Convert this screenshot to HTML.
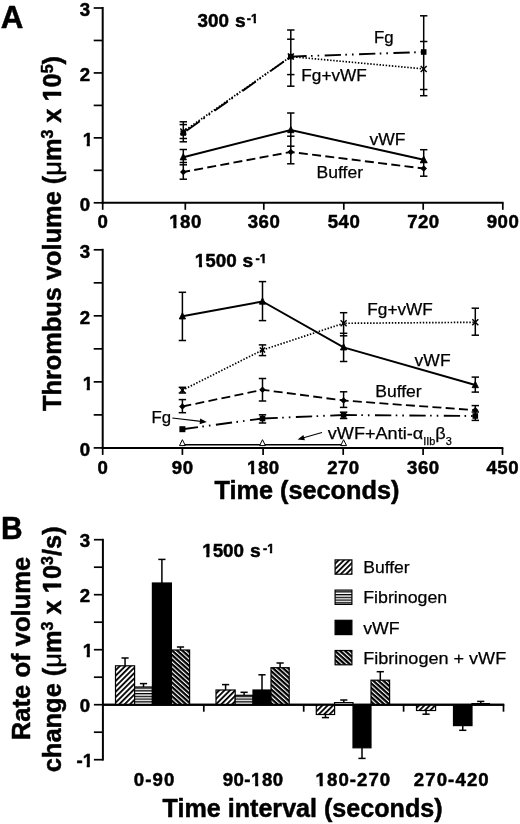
<!DOCTYPE html>
<html><head><meta charset="utf-8"><title>Figure</title>
<style>html,body{margin:0;padding:0;background:#fff}svg{display:block}text{font-family:'Liberation Sans', Arial, Helvetica, sans-serif;fill:#000;stroke:#000;stroke-width:0.5px;stroke-linejoin:round}text.r{stroke-width:0.25px}</style>
</head><body>
<svg width="520" height="824" viewBox="0 0 520 824">
<defs>
<pattern id="hb" width="3.8" height="3.8" patternUnits="userSpaceOnUse" patternTransform="rotate(-45)"><rect width="3.8" height="3.8" fill="#fff"/><rect width="3.8" height="1.8" fill="#000"/></pattern>
<pattern id="hf" width="3" height="2.75" patternUnits="userSpaceOnUse"><rect width="3" height="2.75" fill="#fff"/><rect width="3" height="1.3" fill="#000"/></pattern>
<pattern id="hg" width="3.4" height="3.4" patternUnits="userSpaceOnUse" patternTransform="rotate(42)"><rect width="3.4" height="3.4" fill="#fff"/><rect width="3.4" height="2.25" fill="#000"/></pattern>
</defs>
<rect width="520" height="824" fill="#fff"/>
<text id="t1" x="0.80" y="28.00" font-size="31.3" font-weight="bold" text-anchor="start" >A</text>
<text id="t2" x="1.00" y="538.70" font-size="31" font-weight="bold" text-anchor="start" textLength="21.6" lengthAdjust="spacingAndGlyphs" >B</text>
<line x1="102.70" y1="7.00" x2="102.70" y2="203.80" stroke="#000" stroke-width="2.0" />
<line x1="101.70" y1="202.80" x2="503.60" y2="202.80" stroke="#000" stroke-width="2.0" />
<line x1="93.70" y1="202.80" x2="102.70" y2="202.80" stroke="#000" stroke-width="1.7" />
<line x1="93.70" y1="170.33" x2="102.70" y2="170.33" stroke="#000" stroke-width="1.7" />
<line x1="93.70" y1="137.87" x2="102.70" y2="137.87" stroke="#000" stroke-width="1.7" />
<line x1="93.70" y1="105.40" x2="102.70" y2="105.40" stroke="#000" stroke-width="1.7" />
<line x1="93.70" y1="72.93" x2="102.70" y2="72.93" stroke="#000" stroke-width="1.7" />
<line x1="93.70" y1="40.47" x2="102.70" y2="40.47" stroke="#000" stroke-width="1.7" />
<line x1="93.70" y1="8.00" x2="102.70" y2="8.00" stroke="#000" stroke-width="1.7" />
<line x1="102.70" y1="202.80" x2="102.70" y2="209.80" stroke="#000" stroke-width="1.7" />
<text id="t3" x="102.95" y="228.20" font-size="18.6" font-weight="bold" text-anchor="middle" letter-spacing="0.5">0</text>
<line x1="185.30" y1="202.80" x2="185.30" y2="209.80" stroke="#000" stroke-width="1.7" />
<text id="t4" x="185.55" y="228.20" font-size="18.6" font-weight="bold" text-anchor="middle" letter-spacing="0.5">180</text><rect x="168.76" y="225.10" width="4.57" height="4.80" fill="#fff"/><rect x="176.48" y="225.10" width="4.33" height="4.80" fill="#fff"/>
<line x1="263.80" y1="202.80" x2="263.80" y2="209.80" stroke="#000" stroke-width="1.7" />
<text id="t5" x="264.05" y="228.20" font-size="18.6" font-weight="bold" text-anchor="middle" letter-spacing="0.5">360</text>
<line x1="343.80" y1="202.80" x2="343.80" y2="209.80" stroke="#000" stroke-width="1.7" />
<text id="t6" x="344.05" y="228.20" font-size="18.6" font-weight="bold" text-anchor="middle" letter-spacing="0.5">540</text>
<line x1="423.20" y1="202.80" x2="423.20" y2="209.80" stroke="#000" stroke-width="1.7" />
<text id="t7" x="423.45" y="228.20" font-size="18.6" font-weight="bold" text-anchor="middle" letter-spacing="0.5">720</text>
<line x1="502.80" y1="202.80" x2="502.80" y2="209.80" stroke="#000" stroke-width="1.7" />
<text id="t8" x="503.05" y="228.20" font-size="18.6" font-weight="bold" text-anchor="middle" letter-spacing="0.5">900</text>
<text id="t9" x="90.00" y="210.50" font-size="18.6" font-weight="bold" text-anchor="end" >0</text>
<text id="t10" x="93.00" y="145.57" font-size="18.6" font-weight="bold" text-anchor="end" >1</text><rect x="82.13" y="142.47" width="4.57" height="4.80" fill="#fff"/><rect x="89.85" y="142.47" width="4.33" height="4.80" fill="#fff"/>
<text id="t11" x="90.00" y="80.63" font-size="18.6" font-weight="bold" text-anchor="end" >2</text>
<text id="t12" x="90.00" y="15.70" font-size="18.6" font-weight="bold" text-anchor="end" >3</text>
<text id="t13" x="197.60" y="26.50" font-size="18.8" font-weight="bold" text-anchor="start" >300</text>
<text id="t14" x="235.00" y="26.50" font-size="19.2" font-weight="bold" text-anchor="start" >s</text>
<text id="t15" x="246.80" y="23.20" font-size="12.6" font-weight="bold" text-anchor="start" >-1</text><rect x="250.08" y="20.71" width="3.55" height="4.19" fill="#fff"/><rect x="255.96" y="20.71" width="3.39" height="4.19" fill="#fff"/>
<polyline points="183.30,131.50 290.80,56.60 423.70,68.90" fill="none" stroke="#000" stroke-width="1.7" stroke-dasharray="1.45 1.65" stroke-dashoffset="0"/>
<polyline points="183.30,133.00 290.80,56.60" fill="none" stroke="#000" stroke-width="1.9" stroke-dasharray="16.3 4.4 1.6 5.0 1.6 5.5" stroke-dashoffset="30.5"/>
<polyline points="290.80,56.60 423.70,52.00" fill="none" stroke="#000" stroke-width="1.9" stroke-dasharray="16.3 4.4 1.6 5.0 1.6 5.5" stroke-dashoffset="0.5"/>
<polyline points="183.30,157.20 290.80,130.00 423.70,159.70" fill="none" stroke="#000" stroke-width="2.0"/>
<polyline points="183.30,172.00 290.80,152.00 423.70,168.50" fill="none" stroke="#000" stroke-width="1.9" stroke-dasharray="9 4.3" stroke-dashoffset="2.2"/>
<line x1="183.30" y1="121.80" x2="183.30" y2="141.80" stroke="#000" stroke-width="1.5" />
<line x1="179.60" y1="121.80" x2="187.00" y2="121.80" stroke="#000" stroke-width="1.5" />
<line x1="179.60" y1="124.60" x2="187.00" y2="124.60" stroke="#000" stroke-width="1.5" />
<line x1="179.60" y1="138.50" x2="187.00" y2="138.50" stroke="#000" stroke-width="1.5" />
<line x1="179.60" y1="141.80" x2="187.00" y2="141.80" stroke="#000" stroke-width="1.5" />
<line x1="290.80" y1="30.00" x2="290.80" y2="86.20" stroke="#000" stroke-width="1.5" />
<line x1="287.10" y1="30.00" x2="294.50" y2="30.00" stroke="#000" stroke-width="1.5" />
<line x1="287.10" y1="39.20" x2="294.50" y2="39.20" stroke="#000" stroke-width="1.5" />
<line x1="287.10" y1="74.60" x2="294.50" y2="74.60" stroke="#000" stroke-width="1.5" />
<line x1="287.10" y1="86.20" x2="294.50" y2="86.20" stroke="#000" stroke-width="1.5" />
<line x1="423.70" y1="15.80" x2="423.70" y2="95.70" stroke="#000" stroke-width="1.5" />
<line x1="420.00" y1="15.80" x2="427.40" y2="15.80" stroke="#000" stroke-width="1.5" />
<line x1="420.00" y1="41.50" x2="427.40" y2="41.50" stroke="#000" stroke-width="1.5" />
<line x1="420.00" y1="89.50" x2="427.40" y2="89.50" stroke="#000" stroke-width="1.5" />
<line x1="420.00" y1="95.70" x2="427.40" y2="95.70" stroke="#000" stroke-width="1.5" />
<line x1="183.30" y1="149.50" x2="183.30" y2="179.20" stroke="#000" stroke-width="1.5" />
<line x1="179.60" y1="149.50" x2="187.00" y2="149.50" stroke="#000" stroke-width="1.5" />
<line x1="179.60" y1="162.50" x2="187.00" y2="162.50" stroke="#000" stroke-width="1.5" />
<line x1="179.60" y1="164.80" x2="187.00" y2="164.80" stroke="#000" stroke-width="1.5" />
<line x1="179.60" y1="179.20" x2="187.00" y2="179.20" stroke="#000" stroke-width="1.5" />
<line x1="290.80" y1="113.00" x2="290.80" y2="163.80" stroke="#000" stroke-width="1.5" />
<line x1="287.10" y1="113.00" x2="294.50" y2="113.00" stroke="#000" stroke-width="1.5" />
<line x1="287.10" y1="136.20" x2="294.50" y2="136.20" stroke="#000" stroke-width="1.5" />
<line x1="287.10" y1="146.20" x2="294.50" y2="146.20" stroke="#000" stroke-width="1.5" />
<line x1="287.10" y1="163.80" x2="294.50" y2="163.80" stroke="#000" stroke-width="1.5" />
<line x1="423.70" y1="149.70" x2="423.70" y2="176.20" stroke="#000" stroke-width="1.5" />
<line x1="420.00" y1="149.70" x2="427.40" y2="149.70" stroke="#000" stroke-width="1.5" />
<line x1="420.00" y1="162.50" x2="427.40" y2="162.50" stroke="#000" stroke-width="1.5" />
<line x1="420.00" y1="176.20" x2="427.40" y2="176.20" stroke="#000" stroke-width="1.5" />
<rect x="180.50" y="130.20" width="5.60" height="5.60" fill="#000"/>
<line x1="180.30" y1="128.50" x2="186.30" y2="134.50" stroke="#000" stroke-width="1.4" />
<line x1="180.30" y1="134.50" x2="186.30" y2="128.50" stroke="#000" stroke-width="1.4" />
<rect x="288.00" y="53.80" width="5.60" height="5.60" fill="#000"/>
<line x1="287.80" y1="53.60" x2="293.80" y2="59.60" stroke="#000" stroke-width="1.4" />
<line x1="287.80" y1="59.60" x2="293.80" y2="53.60" stroke="#000" stroke-width="1.4" />
<rect x="420.90" y="49.20" width="5.60" height="5.60" fill="#000"/>
<line x1="420.70" y1="65.90" x2="426.70" y2="71.90" stroke="#000" stroke-width="1.4" />
<line x1="420.70" y1="71.90" x2="426.70" y2="65.90" stroke="#000" stroke-width="1.4" />
<polygon points="183.30,153.58 180.15,159.88 186.45,159.88" fill="#000" stroke="#000" stroke-width="0.9"/>
<polygon points="290.80,126.38 287.65,132.68 293.95,132.68" fill="#000" stroke="#000" stroke-width="0.9"/>
<polygon points="423.70,156.08 420.55,162.38 426.85,162.38" fill="#000" stroke="#000" stroke-width="0.9"/>
<polygon points="183.30,168.70 186.60,172.00 183.30,175.30 180.00,172.00" fill="#000"/>
<polygon points="290.80,148.70 294.10,152.00 290.80,155.30 287.50,152.00" fill="#000"/>
<polygon points="423.70,165.20 427.00,168.50 423.70,171.80 420.40,168.50" fill="#000"/>
<text id="t16" x="374.00" y="43.40" class="r" font-size="16.6" font-weight="normal" text-anchor="start" textLength="19.6" lengthAdjust="spacingAndGlyphs" >Fg</text>
<text id="t17" x="301.30" y="81.30" class="r" font-size="16.6" font-weight="normal" text-anchor="start" textLength="65.5" lengthAdjust="spacingAndGlyphs" >Fg+vWF</text>
<text id="t18" x="369.50" y="144.80" class="r" font-size="16.6" font-weight="normal" text-anchor="start" textLength="36.0" lengthAdjust="spacingAndGlyphs" >vWF</text>
<text id="t19" x="316.60" y="178.30" class="r" font-size="16.6" font-weight="normal" text-anchor="start" textLength="46.5" lengthAdjust="spacingAndGlyphs" >Buffer</text>
<g transform="translate(61.3,411) rotate(-90)"><text id="ylA" font-size="25.5" font-weight="bold" textLength="355" lengthAdjust="spacingAndGlyphs">Thrombus volume (<tspan font-weight="normal">μ</tspan>m<tspan font-size="16" dy="-8.5">3</tspan><tspan dy="8.5"> x 10</tspan><tspan font-size="16" dy="-8.5">5</tspan><tspan dy="8.5">)</tspan></text><rect x="309.39" y="-3.80" width="5.75" height="5.50" fill="#fff"/><rect x="319.23" y="-3.80" width="5.42" height="5.50" fill="#fff"/></g>
<line x1="102.70" y1="248.80" x2="102.70" y2="448.90" stroke="#000" stroke-width="2.0" />
<line x1="101.70" y1="447.90" x2="503.30" y2="447.90" stroke="#000" stroke-width="2.0" />
<line x1="93.70" y1="447.90" x2="102.70" y2="447.90" stroke="#000" stroke-width="1.7" />
<line x1="93.70" y1="414.88" x2="102.70" y2="414.88" stroke="#000" stroke-width="1.7" />
<line x1="93.70" y1="381.87" x2="102.70" y2="381.87" stroke="#000" stroke-width="1.7" />
<line x1="93.70" y1="348.85" x2="102.70" y2="348.85" stroke="#000" stroke-width="1.7" />
<line x1="93.70" y1="315.83" x2="102.70" y2="315.83" stroke="#000" stroke-width="1.7" />
<line x1="93.70" y1="282.82" x2="102.70" y2="282.82" stroke="#000" stroke-width="1.7" />
<line x1="93.70" y1="249.80" x2="102.70" y2="249.80" stroke="#000" stroke-width="1.7" />
<line x1="102.70" y1="447.90" x2="102.70" y2="454.90" stroke="#000" stroke-width="1.7" />
<text id="t20" x="102.95" y="473.70" font-size="18.6" font-weight="bold" text-anchor="middle" letter-spacing="0.5">0</text>
<line x1="182.40" y1="447.90" x2="182.40" y2="454.90" stroke="#000" stroke-width="1.7" />
<text id="t21" x="182.65" y="473.70" font-size="18.6" font-weight="bold" text-anchor="middle" letter-spacing="0.5">90</text>
<line x1="263.10" y1="447.90" x2="263.10" y2="454.90" stroke="#000" stroke-width="1.7" />
<text id="t22" x="263.35" y="473.70" font-size="18.6" font-weight="bold" text-anchor="middle" letter-spacing="0.5">180</text><rect x="246.56" y="470.60" width="4.57" height="4.80" fill="#fff"/><rect x="254.28" y="470.60" width="4.33" height="4.80" fill="#fff"/>
<line x1="343.20" y1="447.90" x2="343.20" y2="454.90" stroke="#000" stroke-width="1.7" />
<text id="t23" x="343.45" y="473.70" font-size="18.6" font-weight="bold" text-anchor="middle" letter-spacing="0.5">270</text>
<line x1="423.10" y1="447.90" x2="423.10" y2="454.90" stroke="#000" stroke-width="1.7" />
<text id="t24" x="423.35" y="473.70" font-size="18.6" font-weight="bold" text-anchor="middle" letter-spacing="0.5">360</text>
<line x1="502.50" y1="447.90" x2="502.50" y2="454.90" stroke="#000" stroke-width="1.7" />
<text id="t25" x="502.75" y="473.70" font-size="18.6" font-weight="bold" text-anchor="middle" letter-spacing="0.5">450</text>
<text id="t26" x="90.00" y="455.60" font-size="18.6" font-weight="bold" text-anchor="end" >0</text>
<text id="t27" x="93.00" y="389.57" font-size="18.6" font-weight="bold" text-anchor="end" >1</text><rect x="82.13" y="386.47" width="4.57" height="4.80" fill="#fff"/><rect x="89.85" y="386.47" width="4.33" height="4.80" fill="#fff"/>
<text id="t28" x="90.00" y="323.53" font-size="18.6" font-weight="bold" text-anchor="end" >2</text>
<text id="t29" x="90.00" y="257.50" font-size="18.6" font-weight="bold" text-anchor="end" >3</text>
<text id="t30" x="194.80" y="266.60" font-size="18.8" font-weight="bold" text-anchor="start" >1500</text><rect x="194.28" y="263.48" width="4.60" height="4.82" fill="#fff"/><rect x="202.07" y="263.48" width="4.37" height="4.82" fill="#fff"/>
<text id="t31" x="242.40" y="266.60" font-size="19.2" font-weight="bold" text-anchor="start" >s</text>
<text id="t32" x="255.60" y="263.30" font-size="12.6" font-weight="bold" text-anchor="start" >-1</text><rect x="258.88" y="260.81" width="3.55" height="4.19" fill="#fff"/><rect x="264.76" y="260.81" width="3.39" height="4.19" fill="#fff"/>
<line x1="182.40" y1="444.80" x2="343.60" y2="444.80" stroke="#000" stroke-width="1.4" />
<polyline points="182.40,390.20 262.50,350.00 343.60,323.30 475.30,322.30" fill="none" stroke="#000" stroke-width="1.7" stroke-dasharray="1.45 1.65" stroke-dashoffset="0"/>
<polyline points="182.40,429.20 262.50,418.50" fill="none" stroke="#000" stroke-width="1.9" stroke-dasharray="16.3 4.4 1.6 5.0 1.6 5.5" stroke-dashoffset="0.6"/>
<polyline points="262.50,418.50 343.60,415.00" fill="none" stroke="#000" stroke-width="1.9" stroke-dasharray="16.3 4.4 1.6 5.0 1.6 5.5" stroke-dashoffset="1.0"/>
<polyline points="343.60,415.00 475.30,416.00" fill="none" stroke="#000" stroke-width="1.9" stroke-dasharray="16.3 4.4 1.6 5.0 1.6 5.5" stroke-dashoffset="3.0"/>
<polyline points="182.40,316.30 262.50,301.50 343.60,347.30 475.30,385.00" fill="none" stroke="#000" stroke-width="1.9"/>
<polyline points="182.40,406.50 262.50,389.80 343.60,400.50 475.30,410.20" fill="none" stroke="#000" stroke-width="1.8" stroke-dasharray="9 4.3" stroke-dashoffset="0"/>
<line x1="182.40" y1="292.30" x2="182.40" y2="340.50" stroke="#000" stroke-width="1.5" />
<line x1="178.70" y1="292.30" x2="186.10" y2="292.30" stroke="#000" stroke-width="1.5" />
<line x1="178.70" y1="340.50" x2="186.10" y2="340.50" stroke="#000" stroke-width="1.5" />
<line x1="262.50" y1="281.60" x2="262.50" y2="320.60" stroke="#000" stroke-width="1.5" />
<line x1="258.80" y1="281.60" x2="266.20" y2="281.60" stroke="#000" stroke-width="1.5" />
<line x1="258.80" y1="320.60" x2="266.20" y2="320.60" stroke="#000" stroke-width="1.5" />
<line x1="343.60" y1="312.70" x2="343.60" y2="361.50" stroke="#000" stroke-width="1.5" />
<line x1="339.90" y1="312.70" x2="347.30" y2="312.70" stroke="#000" stroke-width="1.5" />
<line x1="339.90" y1="333.30" x2="347.30" y2="333.30" stroke="#000" stroke-width="1.5" />
<line x1="339.90" y1="335.80" x2="347.30" y2="335.80" stroke="#000" stroke-width="1.5" />
<line x1="339.90" y1="361.50" x2="347.30" y2="361.50" stroke="#000" stroke-width="1.5" />
<line x1="475.30" y1="377.10" x2="475.30" y2="392.10" stroke="#000" stroke-width="1.5" />
<line x1="471.60" y1="377.10" x2="479.00" y2="377.10" stroke="#000" stroke-width="1.5" />
<line x1="471.60" y1="392.10" x2="479.00" y2="392.10" stroke="#000" stroke-width="1.5" />
<line x1="182.40" y1="387.30" x2="182.40" y2="393.00" stroke="#000" stroke-width="1.5" />
<line x1="178.70" y1="387.30" x2="186.10" y2="387.30" stroke="#000" stroke-width="1.5" />
<line x1="178.70" y1="393.00" x2="186.10" y2="393.00" stroke="#000" stroke-width="1.5" />
<line x1="262.50" y1="344.90" x2="262.50" y2="355.60" stroke="#000" stroke-width="1.5" />
<line x1="258.80" y1="344.90" x2="266.20" y2="344.90" stroke="#000" stroke-width="1.5" />
<line x1="258.80" y1="355.60" x2="266.20" y2="355.60" stroke="#000" stroke-width="1.5" />
<line x1="475.30" y1="308.20" x2="475.30" y2="335.20" stroke="#000" stroke-width="1.5" />
<line x1="471.60" y1="308.20" x2="479.00" y2="308.20" stroke="#000" stroke-width="1.5" />
<line x1="471.60" y1="335.20" x2="479.00" y2="335.20" stroke="#000" stroke-width="1.5" />
<line x1="182.40" y1="399.60" x2="182.40" y2="412.70" stroke="#000" stroke-width="1.5" />
<line x1="178.70" y1="399.60" x2="186.10" y2="399.60" stroke="#000" stroke-width="1.5" />
<line x1="178.70" y1="412.70" x2="186.10" y2="412.70" stroke="#000" stroke-width="1.5" />
<line x1="262.50" y1="378.50" x2="262.50" y2="401.00" stroke="#000" stroke-width="1.5" />
<line x1="258.80" y1="378.50" x2="266.20" y2="378.50" stroke="#000" stroke-width="1.5" />
<line x1="258.80" y1="401.00" x2="266.20" y2="401.00" stroke="#000" stroke-width="1.5" />
<line x1="343.60" y1="391.80" x2="343.60" y2="407.40" stroke="#000" stroke-width="1.5" />
<line x1="339.90" y1="391.80" x2="347.30" y2="391.80" stroke="#000" stroke-width="1.5" />
<line x1="339.90" y1="407.40" x2="347.30" y2="407.40" stroke="#000" stroke-width="1.5" />
<line x1="475.30" y1="405.60" x2="475.30" y2="420.40" stroke="#000" stroke-width="1.5" />
<line x1="471.60" y1="405.60" x2="479.00" y2="405.60" stroke="#000" stroke-width="1.5" />
<line x1="471.60" y1="412.00" x2="479.00" y2="412.00" stroke="#000" stroke-width="1.5" />
<line x1="471.60" y1="420.40" x2="479.00" y2="420.40" stroke="#000" stroke-width="1.5" />
<line x1="262.50" y1="414.80" x2="262.50" y2="423.00" stroke="#000" stroke-width="1.5" />
<line x1="258.80" y1="414.80" x2="266.20" y2="414.80" stroke="#000" stroke-width="1.5" />
<line x1="258.80" y1="423.00" x2="266.20" y2="423.00" stroke="#000" stroke-width="1.5" />
<line x1="343.60" y1="412.20" x2="343.60" y2="418.50" stroke="#000" stroke-width="1.5" />
<line x1="339.90" y1="412.20" x2="347.30" y2="412.20" stroke="#000" stroke-width="1.5" />
<line x1="339.90" y1="418.50" x2="347.30" y2="418.50" stroke="#000" stroke-width="1.5" />
<line x1="182.40" y1="427.00" x2="182.40" y2="431.40" stroke="#000" stroke-width="1.5" />
<line x1="179.80" y1="387.60" x2="185.00" y2="392.80" stroke="#000" stroke-width="1.4" />
<line x1="179.80" y1="392.80" x2="185.00" y2="387.60" stroke="#000" stroke-width="1.4" />
<line x1="259.90" y1="347.40" x2="265.10" y2="352.60" stroke="#000" stroke-width="1.4" />
<line x1="259.90" y1="352.60" x2="265.10" y2="347.40" stroke="#000" stroke-width="1.4" />
<line x1="340.60" y1="320.30" x2="346.60" y2="326.30" stroke="#000" stroke-width="1.4" />
<line x1="340.60" y1="326.30" x2="346.60" y2="320.30" stroke="#000" stroke-width="1.4" />
<line x1="472.30" y1="319.30" x2="478.30" y2="325.30" stroke="#000" stroke-width="1.4" />
<line x1="472.30" y1="325.30" x2="478.30" y2="319.30" stroke="#000" stroke-width="1.4" />
<polygon points="182.40,312.68 179.25,318.98 185.55,318.98" fill="#000" stroke="#000" stroke-width="0.9"/>
<polygon points="262.50,297.88 259.35,304.18 265.65,304.18" fill="#000" stroke="#000" stroke-width="0.9"/>
<polygon points="343.60,343.68 340.45,349.98 346.75,349.98" fill="#000" stroke="#000" stroke-width="0.9"/>
<polygon points="475.30,381.38 472.15,387.68 478.45,387.68" fill="#000" stroke="#000" stroke-width="0.9"/>
<polygon points="182.40,403.20 185.70,406.50 182.40,409.80 179.10,406.50" fill="#000"/>
<polygon points="262.50,386.50 265.80,389.80 262.50,393.10 259.20,389.80" fill="#000"/>
<polygon points="343.60,397.20 346.90,400.50 343.60,403.80 340.30,400.50" fill="#000"/>
<polygon points="475.30,406.90 478.60,410.20 475.30,413.50 472.00,410.20" fill="#000"/>
<rect x="179.40" y="426.20" width="6.00" height="6.00" fill="#000"/>
<rect x="259.70" y="415.70" width="5.60" height="5.60" fill="#000"/>
<rect x="340.80" y="412.20" width="5.60" height="5.60" fill="#000"/>
<rect x="472.50" y="413.20" width="5.60" height="5.60" fill="#000"/>
<polygon points="182.40,439.7 179.50,445.6 185.30,445.6" fill="#fff" stroke="#000" stroke-width="1"/>
<polygon points="262.50,439.7 259.60,445.6 265.40,445.6" fill="#fff" stroke="#000" stroke-width="1"/>
<polygon points="343.60,439.7 340.70,445.6 346.50,445.6" fill="#fff" stroke="#000" stroke-width="1"/>
<text id="t33" x="367.30" y="315.40" class="r" font-size="16.6" font-weight="normal" text-anchor="start" textLength="65.5" lengthAdjust="spacingAndGlyphs" >Fg+vWF</text>
<text id="t34" x="414.60" y="366.00" class="r" font-size="16.6" font-weight="normal" text-anchor="start" textLength="36.0" lengthAdjust="spacingAndGlyphs" >vWF</text>
<text id="t35" x="375.20" y="396.50" class="r" font-size="16.6" font-weight="normal" text-anchor="start" textLength="46.5" lengthAdjust="spacingAndGlyphs" >Buffer</text>
<text id="t36" x="151.60" y="422.50" class="r" font-size="16.6" font-weight="normal" text-anchor="start" textLength="19.6" lengthAdjust="spacingAndGlyphs" >Fg</text>
<line x1="172.30" y1="418.00" x2="203.00" y2="421.60" stroke="#000" stroke-width="1.1" />
<polygon points="206.8,422.1 200.2,418.6 199.6,424.2" fill="#000"/>
<text class="r" x="327.8" y="439.4" font-size="16.6" textLength="124" lengthAdjust="spacingAndGlyphs">vWF+Anti-α<tspan font-size="10" dy="5.9">IIb</tspan><tspan dy="-5.9">β</tspan><tspan font-size="10" dy="5.9">3</tspan></text>
<line x1="322.00" y1="432.50" x2="301.00" y2="438.50" stroke="#000" stroke-width="1.1" />
<polygon points="297.6,439.5 303.4,435.1 304.9,440.3" fill="#000"/>
<text id="t37" x="214.40" y="498.60" font-size="25" font-weight="bold" text-anchor="start" textLength="185.0" lengthAdjust="spacingAndGlyphs" >Time (seconds)</text>
<line x1="102.90" y1="538.80" x2="102.90" y2="760.60" stroke="#000" stroke-width="2.0" />
<line x1="102.00" y1="704.70" x2="504.20" y2="704.70" stroke="#000" stroke-width="2.0" />
<line x1="93.90" y1="539.70" x2="102.90" y2="539.70" stroke="#000" stroke-width="1.7" />
<line x1="93.90" y1="567.20" x2="102.90" y2="567.20" stroke="#000" stroke-width="1.7" />
<line x1="93.90" y1="594.70" x2="102.90" y2="594.70" stroke="#000" stroke-width="1.7" />
<line x1="93.90" y1="622.20" x2="102.90" y2="622.20" stroke="#000" stroke-width="1.7" />
<line x1="93.90" y1="649.70" x2="102.90" y2="649.70" stroke="#000" stroke-width="1.7" />
<line x1="93.90" y1="677.20" x2="102.90" y2="677.20" stroke="#000" stroke-width="1.7" />
<line x1="93.90" y1="704.70" x2="102.90" y2="704.70" stroke="#000" stroke-width="1.7" />
<line x1="93.90" y1="732.20" x2="102.90" y2="732.20" stroke="#000" stroke-width="1.7" />
<line x1="93.90" y1="759.70" x2="102.90" y2="759.70" stroke="#000" stroke-width="1.7" />
<text id="t38" x="90.00" y="547.00" font-size="18.6" font-weight="bold" text-anchor="end" >3</text>
<text id="t39" x="90.00" y="602.00" font-size="18.6" font-weight="bold" text-anchor="end" >2</text>
<text id="t40" x="93.00" y="657.00" font-size="18.6" font-weight="bold" text-anchor="end" >1</text><rect x="82.13" y="653.90" width="4.57" height="4.80" fill="#fff"/><rect x="89.85" y="653.90" width="4.33" height="4.80" fill="#fff"/>
<text id="t41" x="90.00" y="712.00" font-size="18.6" font-weight="bold" text-anchor="end" >0</text>
<text id="t42" x="93.00" y="767.00" font-size="18.6" font-weight="bold" text-anchor="end" >-1</text><rect x="82.11" y="763.90" width="4.57" height="4.80" fill="#fff"/><rect x="89.83" y="763.90" width="4.33" height="4.80" fill="#fff"/>
<line x1="203.80" y1="704.70" x2="203.80" y2="711.70" stroke="#000" stroke-width="1.7" />
<line x1="303.70" y1="704.70" x2="303.70" y2="711.70" stroke="#000" stroke-width="1.7" />
<line x1="403.60" y1="704.70" x2="403.60" y2="711.70" stroke="#000" stroke-width="1.7" />
<line x1="503.50" y1="704.70" x2="503.50" y2="711.70" stroke="#000" stroke-width="1.7" />
<line x1="125.05" y1="665.80" x2="125.05" y2="658.00" stroke="#000" stroke-width="1.5" />
<line x1="121.45" y1="658.00" x2="128.65" y2="658.00" stroke="#000" stroke-width="1.5" />
<rect x="115.50" y="665.80" width="19.10" height="38.90" fill="url(#hb)" stroke="#000" stroke-width="1.2"/>
<line x1="143.50" y1="687.00" x2="143.50" y2="683.60" stroke="#000" stroke-width="1.5" />
<line x1="139.90" y1="683.60" x2="147.10" y2="683.60" stroke="#000" stroke-width="1.5" />
<rect x="134.60" y="687.00" width="17.80" height="17.70" fill="url(#hf)" stroke="#000" stroke-width="1.2"/>
<line x1="161.90" y1="583.00" x2="161.90" y2="559.40" stroke="#000" stroke-width="1.5" />
<line x1="158.30" y1="559.40" x2="165.50" y2="559.40" stroke="#000" stroke-width="1.5" />
<rect x="152.40" y="583.00" width="19.00" height="121.70" fill="#000" stroke="#000" stroke-width="1.2"/>
<line x1="180.50" y1="650.00" x2="180.50" y2="647.00" stroke="#000" stroke-width="1.5" />
<line x1="176.90" y1="647.00" x2="184.10" y2="647.00" stroke="#000" stroke-width="1.5" />
<rect x="171.40" y="650.00" width="18.20" height="54.70" fill="url(#hg)" stroke="#000" stroke-width="1.2"/>
<line x1="225.60" y1="690.00" x2="225.60" y2="684.60" stroke="#000" stroke-width="1.5" />
<line x1="222.00" y1="684.60" x2="229.20" y2="684.60" stroke="#000" stroke-width="1.5" />
<rect x="216.00" y="690.00" width="19.20" height="14.70" fill="url(#hb)" stroke="#000" stroke-width="1.2"/>
<line x1="244.10" y1="695.30" x2="244.10" y2="692.30" stroke="#000" stroke-width="1.5" />
<line x1="240.50" y1="692.30" x2="247.70" y2="692.30" stroke="#000" stroke-width="1.5" />
<rect x="235.20" y="695.30" width="17.80" height="9.40" fill="url(#hf)" stroke="#000" stroke-width="1.2"/>
<line x1="262.00" y1="690.00" x2="262.00" y2="674.80" stroke="#000" stroke-width="1.5" />
<line x1="258.40" y1="674.80" x2="265.60" y2="674.80" stroke="#000" stroke-width="1.5" />
<rect x="253.00" y="690.00" width="18.00" height="14.70" fill="#000" stroke="#000" stroke-width="1.2"/>
<line x1="280.10" y1="667.70" x2="280.10" y2="663.00" stroke="#000" stroke-width="1.5" />
<line x1="276.50" y1="663.00" x2="283.70" y2="663.00" stroke="#000" stroke-width="1.5" />
<rect x="271.00" y="667.70" width="18.20" height="37.00" fill="url(#hg)" stroke="#000" stroke-width="1.2"/>
<line x1="325.45" y1="714.50" x2="325.45" y2="717.60" stroke="#000" stroke-width="1.5" />
<line x1="321.85" y1="717.60" x2="329.05" y2="717.60" stroke="#000" stroke-width="1.5" />
<rect x="316.30" y="704.70" width="18.30" height="9.80" fill="url(#hb)" stroke="#000" stroke-width="1.2"/>
<line x1="343.80" y1="702.60" x2="343.80" y2="700.00" stroke="#000" stroke-width="1.5" />
<line x1="340.20" y1="700.00" x2="347.40" y2="700.00" stroke="#000" stroke-width="1.5" />
<rect x="334.60" y="702.60" width="18.40" height="2.10" fill="url(#hf)" stroke="#000" stroke-width="1.2"/>
<line x1="362.00" y1="747.80" x2="362.00" y2="758.40" stroke="#000" stroke-width="1.5" />
<line x1="358.40" y1="758.40" x2="365.60" y2="758.40" stroke="#000" stroke-width="1.5" />
<rect x="353.00" y="704.70" width="18.00" height="43.10" fill="#000" stroke="#000" stroke-width="1.2"/>
<line x1="380.30" y1="680.20" x2="380.30" y2="671.70" stroke="#000" stroke-width="1.5" />
<line x1="376.70" y1="671.70" x2="383.90" y2="671.70" stroke="#000" stroke-width="1.5" />
<rect x="371.00" y="680.20" width="18.60" height="24.50" fill="url(#hg)" stroke="#000" stroke-width="1.2"/>
<line x1="426.05" y1="710.50" x2="426.05" y2="714.20" stroke="#000" stroke-width="1.5" />
<line x1="422.45" y1="714.20" x2="429.65" y2="714.20" stroke="#000" stroke-width="1.5" />
<rect x="416.50" y="704.70" width="19.10" height="5.80" fill="url(#hb)" stroke="#000" stroke-width="1.2"/>
<line x1="462.75" y1="725.60" x2="462.75" y2="730.30" stroke="#000" stroke-width="1.5" />
<line x1="459.15" y1="730.30" x2="466.35" y2="730.30" stroke="#000" stroke-width="1.5" />
<rect x="453.50" y="704.70" width="18.50" height="20.90" fill="#000" stroke="#000" stroke-width="1.2"/>
<line x1="480.75" y1="703.60" x2="480.75" y2="701.40" stroke="#000" stroke-width="1.5" />
<line x1="477.15" y1="701.40" x2="484.35" y2="701.40" stroke="#000" stroke-width="1.5" />
<rect x="472.00" y="703.60" width="17.50" height="1.10" fill="url(#hg)" stroke="#000" stroke-width="1.2"/>
<line x1="102.00" y1="704.70" x2="504.20" y2="704.70" stroke="#000" stroke-width="2.0" />
<text id="t43" x="202.20" y="556.60" font-size="18.8" font-weight="bold" text-anchor="start" >1500</text><rect x="201.68" y="553.48" width="4.60" height="4.82" fill="#fff"/><rect x="209.47" y="553.48" width="4.37" height="4.82" fill="#fff"/>
<text id="t44" x="250.00" y="556.60" font-size="19.2" font-weight="bold" text-anchor="start" >s</text>
<text id="t45" x="263.00" y="553.30" font-size="12.6" font-weight="bold" text-anchor="start" >-1</text><rect x="266.28" y="550.81" width="3.55" height="4.19" fill="#fff"/><rect x="272.16" y="550.81" width="3.39" height="4.19" fill="#fff"/>
<rect x="335.1" y="559.90" width="16.8" height="14.3" fill="url(#hb)" stroke="#000" stroke-width="1.2"/>
<text id="t46" x="363.20" y="572.80" class="r" font-size="16.6" font-weight="normal" text-anchor="start" textLength="46.5" lengthAdjust="spacingAndGlyphs" >Buffer</text>
<rect x="335.1" y="590.10" width="16.8" height="14.3" fill="url(#hf)" stroke="#000" stroke-width="1.2"/>
<text id="t47" x="363.20" y="603.20" class="r" font-size="16.6" font-weight="normal" text-anchor="start" textLength="84.0" lengthAdjust="spacingAndGlyphs" >Fibrinogen</text>
<rect x="335.1" y="620.30" width="16.8" height="14.3" fill="#000" stroke="#000" stroke-width="1.2"/>
<text id="t48" x="363.20" y="633.60" class="r" font-size="16.6" font-weight="normal" text-anchor="start" textLength="36.5" lengthAdjust="spacingAndGlyphs" >vWF</text>
<rect x="335.1" y="650.50" width="16.8" height="14.3" fill="url(#hg)" stroke="#000" stroke-width="1.2"/>
<text id="t49" x="363.20" y="664.00" class="r" font-size="16.6" font-weight="normal" text-anchor="start" textLength="143.0" lengthAdjust="spacingAndGlyphs" >Fibrinogen + vWF</text>
<text id="t50" x="133.85" y="786.40" font-size="18.6" font-weight="bold" text-anchor="start" textLength="40.5" lengthAdjust="spacing" >0-90</text>
<text id="t51" x="222.65" y="786.40" font-size="18.6" font-weight="bold" text-anchor="start" textLength="60.5" lengthAdjust="spacing" >90-180</text><rect x="250.56" y="783.30" width="4.57" height="4.80" fill="#fff"/><rect x="258.28" y="783.30" width="4.33" height="4.80" fill="#fff"/>
<text id="t52" x="315.60" y="786.40" font-size="18.6" font-weight="bold" text-anchor="start" textLength="74.6" lengthAdjust="spacing" >180-270</text><rect x="315.07" y="783.30" width="4.57" height="4.80" fill="#fff"/><rect x="322.79" y="783.30" width="4.33" height="4.80" fill="#fff"/>
<text id="t53" x="413.70" y="786.40" font-size="18.6" font-weight="bold" text-anchor="start" textLength="75.0" lengthAdjust="spacing" >270-420</text>
<text id="t54" x="162.60" y="816.90" font-size="25" font-weight="bold" text-anchor="start" textLength="280.0" lengthAdjust="spacingAndGlyphs" >Time interval (seconds)</text>
<text transform="translate(30,740.2) rotate(-90)" font-size="25.5" font-weight="bold" textLength="183.5" lengthAdjust="spacingAndGlyphs">Rate of volume</text>
<g transform="translate(61.4,772.3) rotate(-90)"><text id="ylB" font-size="25.5" font-weight="bold" textLength="246" lengthAdjust="spacingAndGlyphs">change (<tspan font-weight="normal">μ</tspan>m<tspan font-size="16" dy="-8.5">3</tspan><tspan dy="8.5"> x 10</tspan><tspan font-size="16" dy="-8.5">3</tspan><tspan dy="8.5">/s)</tspan></text><rect x="179.01" y="-3.80" width="5.75" height="5.50" fill="#fff"/><rect x="188.85" y="-3.80" width="5.42" height="5.50" fill="#fff"/></g>
</svg></body></html>
